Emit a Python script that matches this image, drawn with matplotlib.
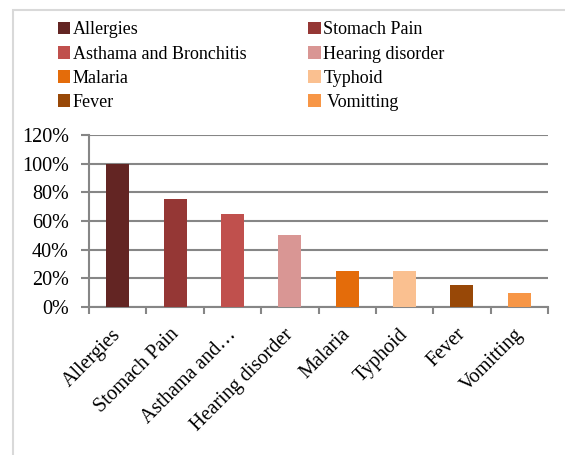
import matplotlib.pyplot as plt
from matplotlib.patches import Patch, Rectangle
from matplotlib.ticker import FuncFormatter
from matplotlib.transforms import ScaledTranslation

plt.rcParams['font.family'] = ['Liberation Serif', 'DejaVu Serif']

categories = ["Allergies", "Stomach Pain", "Asthama and Bronchitis", "Hearing disorder",
              "Malaria", "Typhoid", "Fever", "Vomitting"]
tick_labels = ["Allergies", "Stomach Pain", "Asthama and\u2026", "Hearing disorder",
               "Malaria", "Typhoid", "Fever", "Vomitting"]
legend_labels = ["Allergies", "Stomach Pain", "Asthama and Bronchitis", "Hearing disorder",
                 "Malaria", "Typhoid", "Fever", " Vomitting"]
values = [1.00, 0.75, 0.65, 0.50, 0.25, 0.25, 0.15, 0.10]
colors = ["#632523", "#953735", "#C0504D", "#D99694",
          "#E46C0A", "#FAC090", "#984807", "#F79646"]

fig = plt.figure(figsize=(5.65, 4.55), dpi=100)
ax = fig.add_axes([0.1575, 0.3253, 0.8125, 0.378])

x = range(len(categories))
ax.bar(x, values, width=0.4, color=colors, zorder=3)

ax.set_xlim(-0.5, len(categories) - 0.5)
ax.set_ylim(0, 1.2)
ax.set_yticks([i * 0.2 for i in range(7)])
ax.yaxis.set_major_formatter(FuncFormatter(lambda v, p: f"{v*100:.0f}%"))
ax.grid(axis='y', color='#868686', linewidth=1.5, zorder=0)

ax.set_xticks(x)
ax.set_xticklabels(tick_labels, rotation=45, ha='right', rotation_mode='anchor')
ax.set_xticks([i - 0.5 for i in range(len(categories) + 1)], minor=True)
ax.tick_params(axis='x', which='major', length=0, labelsize=14.5, pad=13)
ax.tick_params(axis='x', which='minor', length=5, width=1.5, color='#868686')
ax.tick_params(axis='y', length=6, width=1.5, color='#868686', labelsize=14.5, pad=8.5)

# nudge the rotated labels a little to the left, like the original
shift = ScaledTranslation(-6 / 100, 0, fig.dpi_scale_trans)
for lab in ax.get_xticklabels():
    lab.set_transform(lab.get_transform() + shift)

for s in ['top', 'right']:
    ax.spines[s].set_visible(False)
for s in ['left', 'bottom']:
    ax.spines[s].set_color('#868686')
    ax.spines[s].set_linewidth(1.5)

order = [0, 2, 4, 6, 1, 3, 5, 7]
handles = [Patch(facecolor=colors[i], edgecolor='none') for i in order]
labels = [legend_labels[i] for i in order]
fig.legend(handles, labels, ncol=2, loc='upper left', bbox_to_anchor=(0.089, 0.969),
           frameon=False, fontsize=13, handlelength=0.7, handleheight=0.7,
           handletextpad=0.15, columnspacing=3.4, labelspacing=0.4, borderaxespad=0)

fig.patches.append(Rectangle((13 / 565, -0.1), 1.2, 1 - 10 / 455 + 0.1,
                             transform=fig.transFigure, fill=False,
                             edgecolor='#D9D9D9', linewidth=1.5))

fig.savefig("out.png", dpi=100)
